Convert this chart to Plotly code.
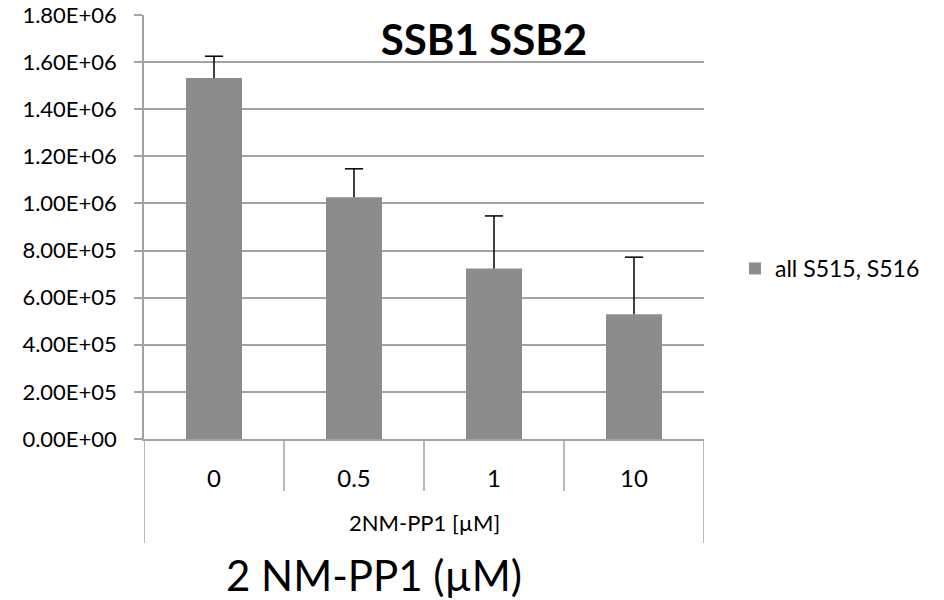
import plotly.graph_objects as go

categories = ["0", "0.5", "1", "10"]
values = [1.533e6, 1.026e6, 0.724e6, 0.530e6]
errors = [0.092e6, 0.121e6, 0.223e6, 0.242e6]
series_name = "all S515, S516"
y_ticks = [i * 2e5 for i in range(10)]
y_ticktext = [f"{v:.2E}" for v in y_ticks]
title_text = "SSB1 SSB2"
group_label = "2NM-PP1 [µM]"
axis_title = "2 NM-PP1 (µM)"

FONT = "Lato, 'Open Sans', sans-serif"
GRID = "#a3a3a3"
BAR = "#8c8c8c"

fig = go.Figure()
fig.add_trace(go.Bar(
    x=categories, y=values, name=series_name,
    marker=dict(color=BAR, line=dict(width=0)),
    error_y=dict(type="data", array=errors, arrayminus=[0] * len(errors),
                 symmetric=False, color="black", thickness=1.5, width=0),
))
# caps only on the upper end of the error bars
fig.add_trace(go.Scatter(
    x=categories, y=[v + e for v, e in zip(values, errors)], mode="markers",
    marker=dict(symbol="line-ew", size=13, line=dict(color="black", width=1.5)),
    showlegend=False, hoverinfo="skip",
))

# plot area 144..704 x, 15..439 y
W, H = 944, 600
L, R, T, B = 144, 240, 15, 161
pw = W - L - R
ph = H - T - B

def py(pix):
    return (H - B - pix) / ph

def px(pix):
    return (pix - L) / pw

shapes = []
n = len(categories)
for i in range(n + 1):
    outer = i in (0, n)
    shapes.append(dict(type="line", xref="x", yref="paper",
                       x0=i - 0.5, x1=i - 0.5, y0=0, y1=py(543 if outer else 491),
                       line=dict(color=GRID, width=1.5)))

fig.update_layout(
    width=W, height=H,
    margin=dict(l=L, r=R, t=T, b=B, autoexpand=False),
    paper_bgcolor="white", plot_bgcolor="white",
    font=dict(family=FONT, color="black", size=20),
    bargap=0.6,
    showlegend=True,
    legend=dict(x=px(735), xanchor="left", y=py(268.5), yanchor="middle",
                font=dict(size=23, family=FONT), itemwidth=30,
                bgcolor="rgba(0,0,0,0)"),
    title=dict(text=f"<b>{title_text}</b>", xref="paper", x=px(484),
               xanchor="center", yref="container", y=1 - 40 / H, yanchor="middle",
               font=dict(size=42, family=FONT, color="black")),
    shapes=shapes,
    annotations=[
        dict(text=group_label, xref="paper", yref="paper", x=0.5, y=py(522),
             showarrow=False, font=dict(size=22, family=FONT), xanchor="center", yanchor="middle"),
        dict(text=axis_title, xref="paper", yref="paper", x=px(374), y=py(575),
             showarrow=False, font=dict(size=42, family=FONT), xanchor="center", yanchor="middle"),
    ],
)
fig.update_xaxes(type="category", range=[-0.5, n - 0.5], showline=True, linecolor=GRID,
                 linewidth=1.5, ticks="", showgrid=False, ticklabelstandoff=17,
                 automargin=False, tickfont=dict(size=24, family=FONT))
fig.update_yaxes(range=[0, 1.8e6], tickvals=y_ticks, ticktext=y_ticktext, showline=True,
                 linecolor=GRID, linewidth=1.5, ticks="outside", ticklen=8, tickcolor=GRID,
                 tickwidth=1.5, showgrid=True, gridcolor=GRID, gridwidth=1.5, zeroline=False,
                 automargin=False, tickfont=dict(size=22, family=FONT), ticklabelstandoff=13)

fig.write_html("out.html", config={"displayModeBar": False},
               post_script="document.body.style.margin='0';")
